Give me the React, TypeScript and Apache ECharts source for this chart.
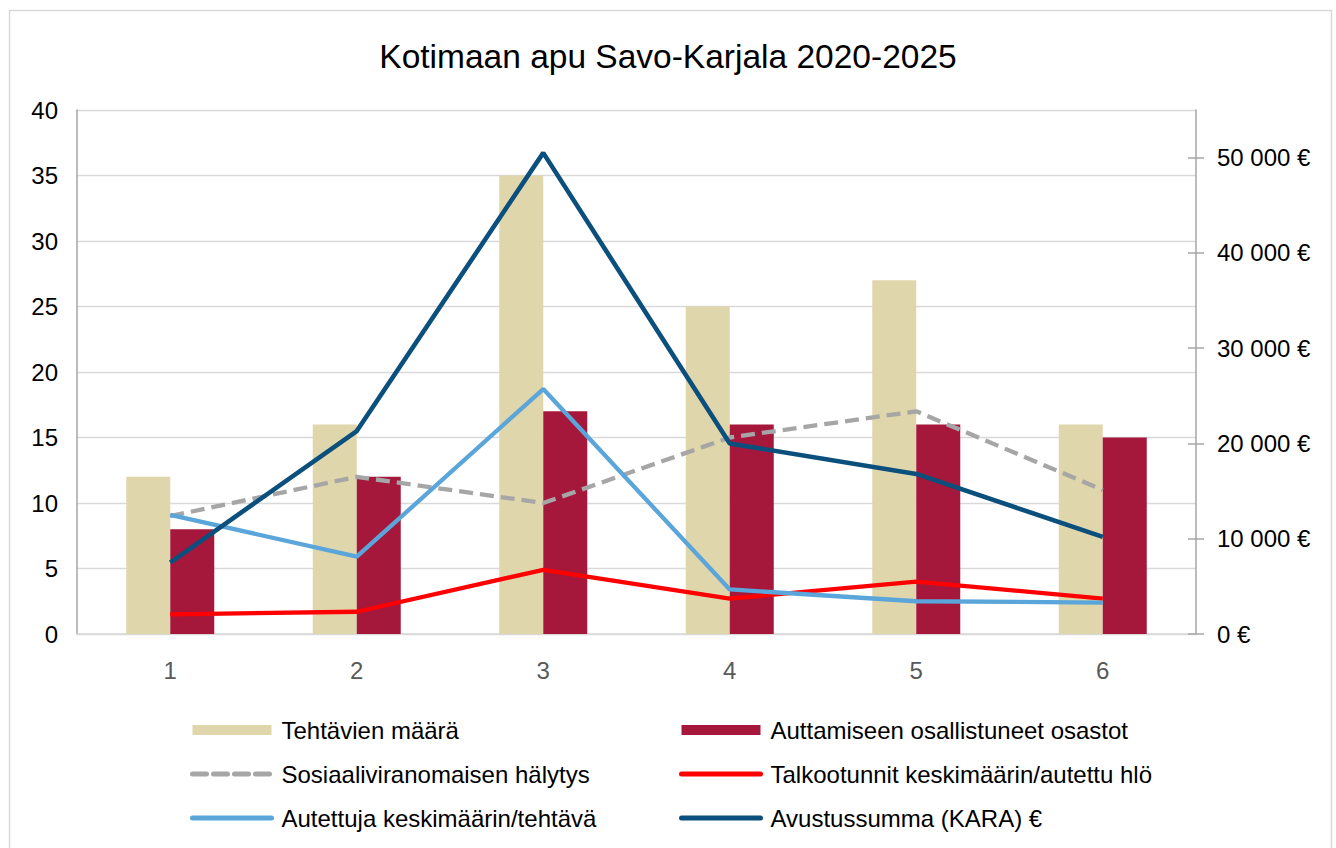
import React, { useEffect, useRef } from "react";
import * as echarts from "echarts";

const titleText = "Kotimaan apu Savo-Karjala 2020-2025";
const categories = ["1", "2", "3", "4", "5", "6"];
const tehtavienMaara = [12, 16, 35, 25, 27, 16];
const osastot = [8, 12, 17, 16, 16, 15];
const halytys = [9, 12, 10, 15, 17, 11];
const talkootunnit = [1.5, 1.7, 4.9, 2.7, 4.0, 2.7];
const autettuja = [9.1, 5.9, 18.7, 3.4, 2.5, 2.4];
const avustussumma = [7500, 21300, 50500, 20000, 16800, 10200];
const rightTicks = [0, 10000, 20000, 30000, 40000, 50000];

const names = {
  teht: "Tehtävien määrä",
  osa: "Auttamiseen osallistuneet osastot",
  hal: "Sosiaaliviranomaisen hälytys",
  talk: "Talkootunnit keskimäärin/autettu hlö",
  aut: "Autettuja keskimäärin/tehtävä",
  avu: "Avustussumma (KARA) €",
};

const FONT = "'Liberation Sans', Arial, sans-serif";

function fmtEuro(v: number) {
  const s = Math.round(v).toString().replace(/\B(?=(\d{3})+(?!\d))/g, " ");
  return s + " €";
}

export default function App() {
  const ref = useRef<HTMLDivElement>(null);
  useEffect(() => {
    if (!ref.current) return;
    const chart = echarts.init(ref.current, null, { renderer: "svg" });
    const legendText = { fontSize: 24, color: "#000", fontFamily: FONT, lineHeight: 24, padding: [0, 0, 0, 5] };
    const lineItem = (name: string) => ({
      name,
      itemStyle: { opacity: 0 },
      lineStyle: { width: 5, cap: "round" },
    });
    chart.setOption({
      animation: false,
      backgroundColor: "#fff",
      textStyle: { fontFamily: FONT },
      title: {
        text: titleText,
        left: "center",
        top: 34,
        textStyle: { fontSize: 33.5, fontWeight: "normal", color: "#000", fontFamily: FONT },
      },
      graphic: [
        {
          type: "rect",
          shape: { x: 9.5, y: 10.5, width: 1322, height: 860 },
          style: { fill: "none", stroke: "#d9d9d9", lineWidth: 1.5 },
          silent: true,
        },
      ],
      grid: { left: 77, right: 140, top: 110, bottom: 214 },
      legend: [
        {
          orient: "vertical",
          left: 190,
          top: 718,
          padding: 0,
          itemWidth: 79,
          itemHeight: 10,
          itemGap: 20,
          textStyle: legendText,
          data: [
            { name: names.teht, icon: "rect" },
            lineItem(names.hal),
            lineItem(names.aut),
          ],
        },
        {
          orient: "vertical",
          left: 679,
          top: 718,
          padding: 0,
          itemWidth: 79,
          itemHeight: 10,
          itemGap: 20,
          textStyle: legendText,
          data: [
            { name: names.osa, icon: "rect" },
            lineItem(names.talk),
            lineItem(names.avu),
          ],
        },
      ],
      xAxis: {
        type: "category",
        data: categories,
        axisLine: { lineStyle: { color: "#d9d9d9", width: 1.5 } },
        axisTick: { show: false },
        axisLabel: { color: "#595959", fontSize: 24, margin: 24, fontFamily: FONT },
      },
      yAxis: [
        {
          type: "value",
          min: 0,
          max: 40,
          interval: 5,
          axisLine: { show: true, lineStyle: { color: "#a6a6a6", width: 1.5 } },
          axisTick: { show: false },
          axisLabel: { color: "#000", fontSize: 24, margin: 19, fontFamily: FONT },
          splitLine: { lineStyle: { color: "#d9d9d9", width: 1.3 } },
        },
        {
          type: "value",
          position: "right",
          min: 0,
          max: 55000,
          interval: 10000,
          axisLine: { show: true, lineStyle: { color: "#a6a6a6", width: 1.5 } },
          axisTick: { show: true, length: 8, customValues: rightTicks, lineStyle: { color: "#a6a6a6", width: 1.5 } },
          axisLabel: {
            color: "#000",
            fontSize: 24,
            margin: 21,
            fontFamily: FONT,
            customValues: rightTicks,
            formatter: (v: number) => (v > 50000 ? "" : fmtEuro(v)),
          },
          splitLine: { show: false },
        },
        {
          type: "value",
          position: "right",
          min: 0,
          max: 55000,
          interval: 10000,
          axisLine: { show: false },
          axisTick: { show: true, inside: true, length: 8, customValues: rightTicks, lineStyle: { color: "#a6a6a6", width: 1.5 } },
          axisLabel: { show: false },
          splitLine: { show: false },
        },
      ],
      series: [
        {
          name: names.teht,
          type: "bar",
          data: tehtavienMaara,
          barWidth: 44,
          barGap: "0%",
          itemStyle: { color: "#e0d6ab" },
        },
        {
          name: names.osa,
          type: "bar",
          data: osastot,
          barWidth: 44,
          barGap: "0%",
          itemStyle: { color: "#a5183b" },
        },
        {
          name: names.hal,
          type: "line",
          data: halytys,
          symbol: "none",
          lineStyle: { color: "#a6a6a6", width: 4.3, type: [14, 7] },
          itemStyle: { color: "#a6a6a6" },
        },
        {
          name: names.talk,
          type: "line",
          data: talkootunnit,
          symbol: "none",
          lineStyle: { color: "#ff0000", width: 4.3 },
          itemStyle: { color: "#ff0000" },
        },
        {
          name: names.aut,
          type: "line",
          data: autettuja,
          symbol: "none",
          lineStyle: { color: "#5aa5da", width: 4.3 },
          itemStyle: { color: "#5aa5da" },
        },
        {
          name: names.avu,
          type: "line",
          yAxisIndex: 1,
          data: avustussumma,
          symbol: "none",
          lineStyle: { color: "#0b4f7d", width: 4.6 },
          itemStyle: { color: "#0b4f7d" },
        },
      ],
    });
    return () => chart.dispose();
  }, []);
  return (
    <div
      ref={ref}
      style={{ position: "absolute", left: 0, top: 0, width: 1336, height: 848 }}
    />
  );
}
